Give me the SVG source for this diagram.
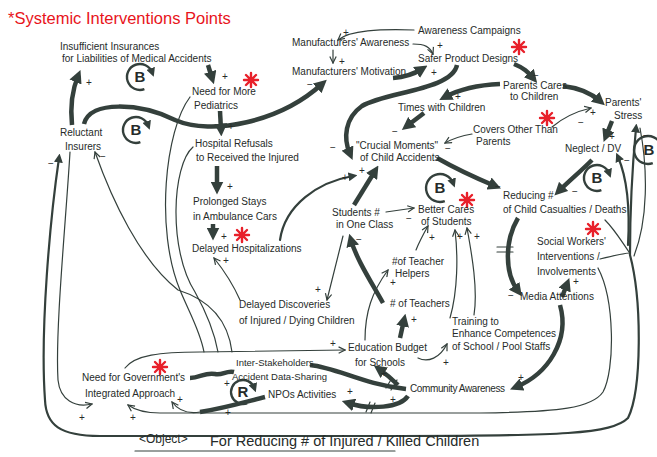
<svg xmlns="http://www.w3.org/2000/svg" width="657" height="457" viewBox="0 0 657 457">
<style>
text{font-family:"Liberation Sans",Arial,sans-serif;font-size:10px;fill:#262b29}
.t{fill:none;stroke:#34403c;stroke-width:1.2;stroke-linecap:round}
.k{fill:none;stroke:#34403c;stroke-width:4.5}
.m{fill:none;stroke:#34403c;stroke-width:2.2;stroke-linecap:round}
.s{font-size:11px}
.title{font-size:16.5px;fill:#e8141b}
.loop path{fill:none;stroke:#34403c;stroke-width:2.4}
.loop text{font-size:15px;font-weight:bold;text-anchor:middle}
.star path{stroke:#e8202a;stroke-width:2.4;stroke-linecap:round}
</style>
<defs>
<marker id="ha" viewBox="0 0 10 10" refX="9" refY="5" markerWidth="8" markerHeight="8" markerUnits="userSpaceOnUse" orient="auto"><path d="M1,1 L9,5 L1,9" fill="none" stroke="#34403c" stroke-width="1.5"/></marker>
<marker id="hk" viewBox="0 0 10 10" refX="5" refY="5" markerWidth="13" markerHeight="13" markerUnits="userSpaceOnUse" orient="auto"><path d="M0,0 L10,5 L0,10 z" fill="#34403c"/></marker>
<marker id="hm" viewBox="0 0 10 10" refX="5" refY="5" markerWidth="9" markerHeight="9" markerUnits="userSpaceOnUse" orient="auto"><path d="M0,0 L10,5 L0,10 z" fill="#34403c"/></marker>
<g id="star" class="star"><path d="M-7,0 L7,0 M0,-7 L0,7 M-5,-5 L5,5 M-5,5 L5,-5"/></g>
</defs>
<rect width="657" height="457" fill="#ffffff"/>
<text class="title" x="8" y="24">*Systemic Interventions Points</text>

<g id="connectors">
<!-- thick -->
<path class="k" marker-end="url(#hk)" d="M72,125 C70,105 73,88 78,76"/>
<path class="k" marker-end="url(#hk)" d="M208,65 L212,78"/>
<path class="k" marker-end="url(#hk)" d="M84,124 C90,100 140,103 175,120 C212,136 280,122 322,84"/>
<path class="k" marker-end="url(#hk)" d="M220,111 L221,130"/>
<path class="k" marker-end="url(#hk)" d="M217,166 L217,188"/>
<path class="k" marker-end="url(#hk)" d="M213,224 L213,234"/>
<path class="k" marker-end="url(#hk)" d="M393,78 C406,77 414,74 422,69"/>
<path class="k" marker-end="url(#hk)" d="M514,64 C524,68 528,72 533,78"/>
<path class="k" marker-end="url(#hk)" d="M457,65 C452,90 385,92 362,106 C345,118 343,138 350,154"/>
<path class="k" marker-end="url(#hk)" d="M500,84 C478,85 458,90 445,97"/>
<path class="k" marker-end="url(#hk)" d="M563,86 C580,88 592,94 600,101"/>
<path class="k" marker-end="url(#hk)" d="M424,113 L407,126"/>
<path class="k" marker-end="url(#hk)" d="M612,121 L606,136"/>
<path class="k" marker-end="url(#hk)" d="M592,160 C580,172 569,181 559,191"/>
<path class="k" marker-end="url(#hk)" d="M437,158 C458,170 476,178 495,186"/>
<path class="k" marker-end="url(#hk)" d="M354,205 L375,171"/>
<path class="m" marker-end="url(#hm)" d="M280,240 C285,205 318,182 353,176"/>
<path class="k" marker-end="url(#hk)" d="M383,303 C370,280 356,258 351,240"/>
<path class="k" marker-end="url(#hk)" d="M518,218 C505,240 504,272 518,291"/>
<path class="k" marker-end="url(#hk)" d="M562,297 L567,284"/>
<path class="k" marker-end="url(#hk)" d="M560,305 C570,340 548,374 516,387"/>
<path class="k" marker-end="url(#hk)" d="M400,338 L404,320"/>
<path class="k" d="M310,365 C338,368 362,384 406,389"/>
<path class="k" marker-end="url(#hk)" d="M398,385 C392,379 386,374 379,369"/>
<path class="k" marker-end="url(#hk)" d="M408,396 C400,408 370,410 348,403"/>
<path class="k" d="M265,397 C245,402 225,408 200,412"/>
<path class="t" marker-end="url(#ha)" d="M200,412 C188,414 178,410 172,402"/>
<path class="k" d="M190,378 C200,378 205,372 215,374 C222,376 226,370 234,372"/>
<!-- double bars -->
<path class="t" d="M497,247 L513,247 M497,252 L513,252 M386,388 L392,378 M391,390 L397,380 M366,412 L370,402 M371,413 L375,403"/>
<!-- thin -->
<path class="t" marker-end="url(#ha)" d="M414,30 C380,29 350,30 338,40"/>
<path class="t" marker-end="url(#ha)" d="M413,44 C425,44 430,47 433,54"/>
<path class="t" marker-end="url(#ha)" d="M333,50 L333,63"/>
<path class="t" marker-end="url(#ha)" d="M552,127 C565,116 578,111 591,108"/>
<path class="t" marker-end="url(#ha)" d="M472,134 C460,136 452,139 445,143"/>
<path class="t" marker-end="url(#ha)" d="M386,212 L414,208"/>
<path class="t" marker-end="url(#ha)" d="M343,236 L327,300"/>
<path class="t" marker-end="url(#ha)" d="M416,250 C420,240 424,233 428,226"/>
<path class="t" marker-end="url(#ha)" d="M450,318 C458,290 458,255 455,230"/>
<path class="t" marker-end="url(#ha)" d="M474,315 C478,290 472,255 467,228"/>
<path class="t" marker-end="url(#ha)" d="M365,340 C365,312 372,292 388,270"/>
<path class="t" marker-end="url(#ha)" d="M418,358 C428,363 440,358 447,344"/>
<path class="t" marker-end="url(#ha)" d="M125,368 C135,355 160,352 200,352 L345,350"/>
<path class="t" marker-end="url(#ha)" d="M240,300 C232,282 222,268 214,258"/>
<path class="t" marker-end="url(#ha)" d="M232,352 C228,320 210,300 178,290 C140,260 112,200 95,152"/>
<path class="t" d="M190,97 C165,130 155,230 180,290 C188,310 200,330 204,352"/>
<path class="t" d="M193,147 C172,165 168,250 195,292 C205,310 214,330 218,352"/>
<path class="t" marker-end="url(#ha)" d="M70,152 C66,220 55,330 58,380 C60,400 75,408 92,404"/>
<path class="m" marker-end="url(#hm)" d="M630,255 C642,300 642,390 628,418 C612,434 560,436 400,436 L100,436 C60,436 46,425 45,400 C40,330 50,220 59,158"/>
<path class="t" marker-end="url(#ha)" d="M598,268 C615,300 615,370 603,392 C592,408 560,412 480,413 L160,413 C145,413 135,410 128,405"/>
<path class="m" marker-end="url(#hm)" d="M630,255 C630,220 632,170 636,128"/>
<path class="m" marker-end="url(#hm)" d="M628,245 C630,210 628,180 618,157"/>
<path class="t" d="M605,220 C615,230 622,242 629,252 M600,259 C612,256 620,254 629,253 M640,128 C648,170 648,220 634,256"/>
</g>

<g id="loops" class="loop">
<g id="loop-b1"><path marker-end="url(#hm)" d="M144.4,89.2 A13 13 0 1 1 152.2,72.6"/><text x="140" y="82">B</text></g>
<g id="loop-b2"><path marker-end="url(#hm)" d="M140.4,142.2 A13 13 0 1 1 148.2,125.6"/><text x="136" y="135">B</text></g>
<g id="loop-b3"><path marker-end="url(#hm)" d="M444.8,201.2 A14 14 0 1 1 453.2,183.2"/><text x="440" y="193">B</text></g>
<g id="loop-b4"><path marker-end="url(#hm)" d="M601.4,190.2 A13 13 0 1 1 609.2,173.6"/><text x="597" y="183">B</text></g>
<g id="loop-b5"><path d="M652.8,163.2 A14 14 0 1 1 661.2,145.2"/><text x="649" y="155">B</text></g>
<g id="loop-r"><path marker-end="url(#hm)" d="M247.1,403.3 A12 12 0 1 1 254.3,387.9"/><text x="243" y="397">R</text></g>
</g>

<g id="stars">
<use href="#star" x="251" y="80"/>
<use href="#star" x="519" y="47"/>
<use href="#star" x="547" y="118"/>
<use href="#star" x="242" y="235"/>
<use href="#star" x="467" y="200"/>
<use href="#star" x="593" y="229"/>
<use href="#star" x="160" y="367"/>
</g>

<g id="signs" class="s">
<text x="86" y="86">+</text>
<text x="222" y="80">+</text>
<text x="307" y="88">−</text>
<text x="228" y="130">+</text>
<text x="227" y="190">+</text>
<text x="221" y="240">+</text>
<text x="343" y="36">+</text>
<text x="437" y="49">+</text>
<text x="339" y="65">+</text>
<text x="431" y="76">+</text>
<text x="533" y="79">−</text>
<text x="455" y="100">+</text>
<text x="330" y="151">−</text>
<text x="392" y="135">−</text>
<text x="445" y="152">−</text>
<text x="590" y="116">+</text>
<text x="578" y="126">−</text>
<text x="609" y="140">+</text>
<text x="572" y="195">−</text>
<text x="495" y="190">−</text>
<text x="359" y="174">+</text>
<text x="342" y="181">+</text>
<text x="406" y="222">−</text>
<text x="356" y="243">−</text>
<text x="429" y="241">+</text>
<text x="457" y="240">+</text>
<text x="474" y="240">+</text>
<text x="315" y="293">+</text>
<text x="390" y="286">+</text>
<text x="411" y="323">+</text>
<text x="443" y="366">+</text>
<text x="330" y="347">+</text>
<text x="223" y="264">+</text>
<text x="100" y="160">−</text>
<text x="48" y="167">−</text>
<text x="79" y="421">+</text>
<text x="130" y="421">+</text>
<text x="177" y="403">+</text>
<text x="224" y="387">+</text>
<text x="225" y="416">+</text>
<text x="347" y="395">+</text>
<text x="390" y="403">+</text>
<text x="381" y="377">+</text>
<text x="518" y="381">+</text>
<text x="508" y="299">−</text>
<text x="573" y="285">+</text>
<text x="624" y="164">−</text>
<text x="643" y="139">−</text>
</g>

<g id="n-insufficient"><text x="60" y="50">Insufficient  Insurances</text><text x="62" y="62">for Liabilities of Medical Accidents</text></g>
<g id="n-manuf-awareness"><text x="292" y="46">Manufacturers' Awareness</text></g>
<g id="n-campaigns"><text x="418" y="34">Awareness Campaigns</text></g>
<g id="n-safer"><text x="418" y="62">Safer Product Designs</text></g>
<g id="n-manuf-motivation"><text x="292" y="75">Manufacturers' Motivation</text></g>
<g id="n-pediatrics"><text x="192" y="95">Need for More</text><text x="194" y="109">Pediatrics</text></g>
<g id="n-parents-cares"><text x="503" y="89">Parents Cares</text><text x="510" y="100">to Children</text></g>
<g id="n-stress"><text x="605" y="106">Parents'</text><text x="614" y="119">Stress</text></g>
<g id="n-times"><text x="398" y="111">Times with Children</text></g>
<g id="n-insurers"><text x="60" y="136">Reluctant</text><text x="65" y="150">Insurers</text></g>
<g id="n-refusals"><text x="195" y="147">Hospital Refusals</text><text x="196" y="161">to Received the Injured</text></g>
<g id="n-covers"><text x="473" y="133">Covers Other Than</text><text x="476" y="145">Parents</text></g>
<g id="n-crucial"><text x="356" y="149">"Crucial Moments"</text><text x="360" y="161">of Child Accidents</text></g>
<g id="n-neglect"><text x="565" y="152">Neglect / DV</text></g>
<g id="n-prolonged"><text x="193" y="205">Prolonged Stays</text><text x="193" y="220">in Ambulance Cars</text></g>
<g id="n-reducing"><text x="503" y="199">Reducing #</text><text x="503" y="213">of Child Casualties / Deaths</text></g>
<g id="n-students"><text x="332" y="216">Students #</text><text x="336" y="228">in One Class</text></g>
<g id="n-better"><text x="418" y="213">Better Cares</text><text x="421" y="225">of Students</text></g>
<g id="n-delayed-hosp"><text x="192" y="252">Delayed Hospitalizations</text></g>
<g id="n-social"><text x="537" y="245">Social Workers'</text><text x="537" y="260">Interventions /</text><text x="537" y="275">Involvements</text></g>
<g id="n-helpers"><text x="392" y="265">#of Teacher</text><text x="395" y="277">Helpers</text></g>
<g id="n-media"><text x="520" y="300">Media Attentions</text></g>
<g id="n-discoveries"><text x="239" y="308">Delayed Discoveries</text><text x="239" y="324">of Injured / Dying Children</text></g>
<g id="n-teachers"><text x="390" y="307"># of Teachers</text></g>
<g id="n-training"><text x="452" y="325">Training to</text><text x="452" y="337">Enhance Competences</text><text x="452" y="350">of School / Pool Staffs</text></g>
<g id="n-budget"><text x="348" y="351">Education Budget</text><text x="355" y="366">for Schools</text></g>
<g id="n-datasharing"><text x="236" y="366" style="font-size:9.5px">Inter-Stakeholders</text><text x="232" y="380" style="font-size:9.5px">Accident Data-Sharing</text></g>
<g id="n-government"><text x="82" y="381">Need for Government's</text><text x="85" y="397">Integrated Approach</text></g>
<g id="n-npos"><text x="268" y="398">NPOs Activities</text></g>
<g id="n-community"><text x="410" y="392" textLength="95">Community Awareness</text></g>
<g id="objective"><text x="139" y="443" style="font-size:12px">&lt;Object&gt;</text><text x="210" y="446" style="font-size:14.5px">For Reducing # of Injured / Killed Children</text><path class="t" d="M135,451 L395,451"/></g>
</svg>
